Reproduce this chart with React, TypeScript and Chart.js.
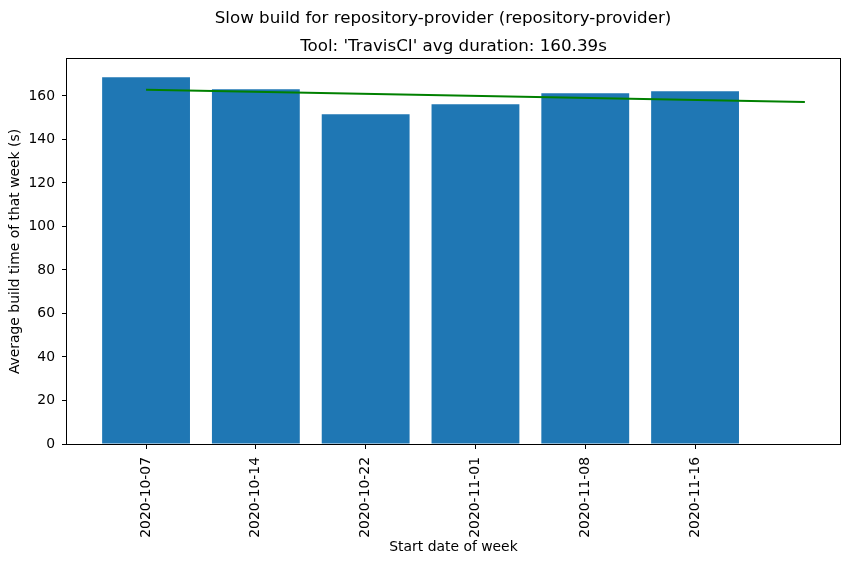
import React, { useEffect, useRef } from "react";
import { Chart, registerables } from "chart.js";

Chart.register(...registerables);

const mainTitle = "Slow build for repository-provider (repository-provider)";
const subTitle = "Tool: 'TravisCI' avg duration: 160.39s";
const xAxisTitle = "Start date of week";
const yAxisTitle = "Average build time of that week (s)";

const weeks = ["2020-10-07", "2020-10-14", "2020-10-22", "2020-11-01", "2020-11-08", "2020-11-16"];
const avgBuildTimes = [168.6, 163.1, 151.6, 156.2, 161.2, 162.2];
const trendX = [0, 6];
const trendY = [162.9, 157.2];
const yTicks = [0, 20, 40, 60, 80, 100, 120, 140, 160];

const FONT = "'DejaVu Sans', sans-serif";

const titlesAndFrame = {
  id: "titlesAndFrame",
  afterDraw(chart: any) {
    const { ctx, chartArea } = chart;
    ctx.save();
    ctx.strokeStyle = "#000";
    ctx.lineWidth = 1;
    ctx.strokeRect(
      Math.round(chartArea.left) - 0.5,
      Math.round(chartArea.top) - 0.5,
      Math.round(chartArea.right - chartArea.left) + 1,
      Math.round(chartArea.bottom - chartArea.top) + 1
    );
    ctx.fillStyle = "#000";
    ctx.font = `16.7px ${FONT}`;
    ctx.textAlign = "center";
    ctx.textBaseline = "alphabetic";
    ctx.fillText(mainTitle, 443, 23);
    ctx.fillText(subTitle, (chartArea.left + chartArea.right) / 2, 51);
    ctx.restore();
  },
};

export default function App() {
  const ref = useRef<HTMLCanvasElement | null>(null);

  useEffect(() => {
    if (!ref.current) return;
    const chart = new Chart(ref.current, {
      type: "bar",
      data: {
        datasets: [
          {
            type: "line",
            data: trendX.map((x, i) => ({ x, y: trendY[i] })),
            borderColor: "#008000",
            borderWidth: 2,
            pointRadius: 0,
            fill: false,
            order: 0,
          } as any,
          {
            type: "bar",
            data: weeks.map((_, i) => ({ x: i, y: avgBuildTimes[i] })),
            backgroundColor: "#1f77b4",
            borderWidth: 0,
            inflateAmount: 0,
            categoryPercentage: 1,
            barPercentage: 0.8,
            order: 1,
          } as any,
        ],
      },
      options: {
        animation: false,
        responsive: false,
        devicePixelRatio: 1,
        layout: { padding: { top: 59, left: 0, right: 10, bottom: 0 } },
        plugins: {
          legend: { display: false },
          tooltip: { enabled: false },
          title: { display: false },
        },
        scales: {
          x: {
            type: "linear",
            offset: false,
            min: -0.72,
            max: 6.32,
            grid: {
              offset: false,
              drawOnChartArea: false,
              drawTicks: true,
              tickLength: 5,
              color: "#000",
              lineWidth: 1,
            },
            border: { display: false },
            afterBuildTicks: (scale: any) => {
              scale.ticks = weeks.map((_, i) => ({ value: i }));
            },
            afterFit: (scale: any) => {
              scale.height = 120;
            },
            ticks: {
              autoSkip: false,
              minRotation: 90,
              maxRotation: 90,
              padding: 8,
              color: "#000",
              font: { family: FONT, size: 13.9 },
              callback: (_v: any, i: number) => weeks[i] ?? "",
            },
            title: {
              display: true,
              text: xAxisTitle,
              color: "#000",
              font: { family: FONT, size: 13.9 },
              padding: { top: 0, bottom: 8.5 },
            },
          },
          y: {
            type: "linear",
            min: 0,
            max: 177,
            grid: {
              drawOnChartArea: false,
              drawTicks: true,
              tickLength: 5,
              color: "#000",
              lineWidth: 1,
            },
            border: { display: false },
            afterBuildTicks: (scale: any) => {
              scale.ticks = yTicks.map((v) => ({ value: v }));
            },
            afterFit: (scale: any) => {
              scale.width = 67;
            },
            ticks: {
              padding: 7,
              color: "#000",
              font: { family: FONT, size: 13.9 },
              callback: (v: any) => String(v),
            },
            title: {
              display: true,
              text: yAxisTitle,
              color: "#000",
              font: { family: FONT, size: 13.9 },
              padding: { top: 7.5, bottom: 0 },
            },
          },
        },
      },
      plugins: [titlesAndFrame],
    } as any);
    return () => chart.destroy();
  }, []);

  return (
    <div style={{ position: "fixed", left: 0, top: 0, width: 850, height: 564, background: "#fff" }}>
      <canvas ref={ref} width={850} height={564} style={{ width: 850, height: 564, display: "block" }} />
    </div>
  );
}
